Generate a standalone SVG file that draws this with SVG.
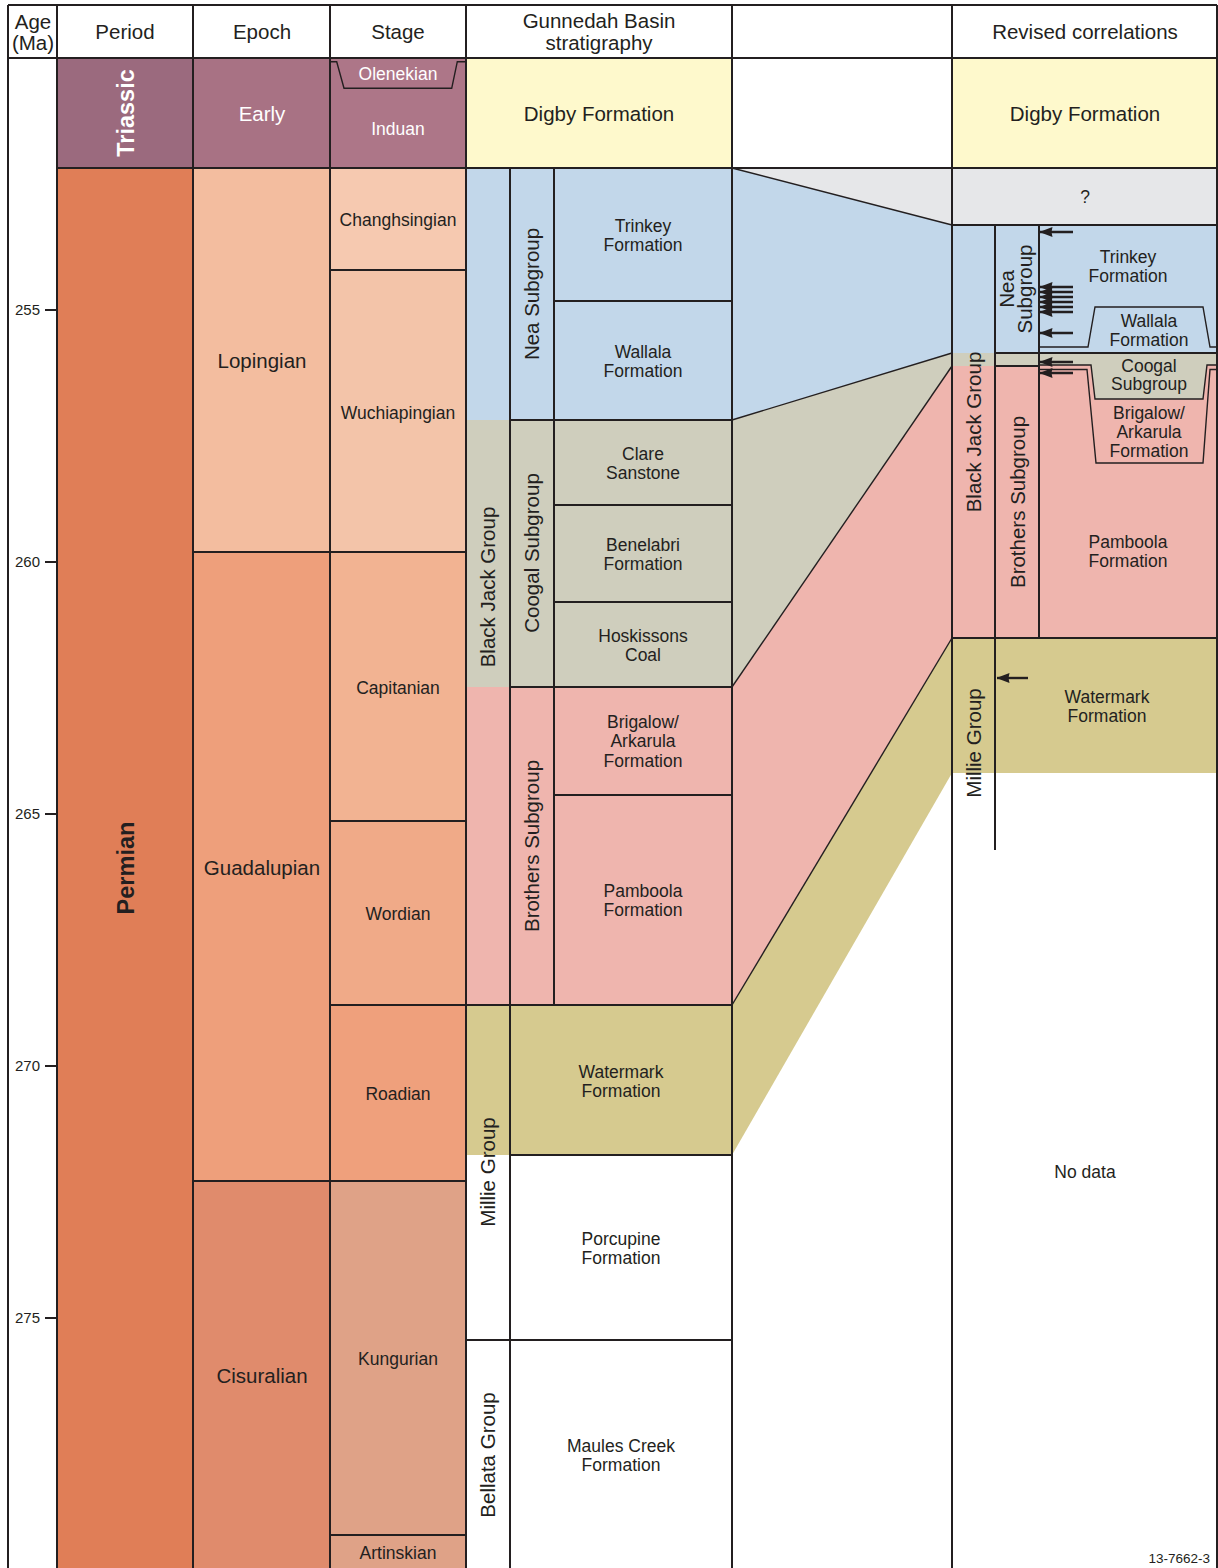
<svg xmlns="http://www.w3.org/2000/svg" width="1218" height="1568" viewBox="0 0 1218 1568">
<style>
.t{font-family:"Liberation Sans",Arial,sans-serif;fill:#231f20;text-anchor:middle}
.h{font-size:20.5px}
.s{font-size:17.5px}
.a{font-size:15px;text-anchor:end}
.b{font-size:23.5px;font-weight:bold}
.w{fill:#ffffff}
.ln{stroke:#231f20;stroke-width:2;fill:none}
.dl{stroke:#231f20;stroke-width:1.4;fill:none}
.ar{stroke:#231f20;stroke-width:2.4;fill:none;marker-end:url(#ah)}
</style>
<defs>
<marker id="ah" viewBox="0 0 13 10" refX="12.5" refY="5" markerWidth="13" markerHeight="10" markerUnits="userSpaceOnUse" orient="auto">
<path d="M0,0 L13,5 L0,10 L1,5 z" fill="#231f20"/>
</marker>
</defs>
<rect width="1218" height="1568" fill="#ffffff"/>

<g id="fills">
<rect x="57" y="58" width="136" height="110" fill="#9b6a7e"/>
<rect x="57" y="168" width="136" height="1400" fill="#e07e57"/>
<rect x="193" y="58" width="137" height="110" fill="#a87284"/>
<rect x="193" y="168" width="137" height="384" fill="#f3bd9f"/>
<rect x="193" y="552" width="137" height="629" fill="#ee9f7b"/>
<rect x="193" y="1181" width="137" height="387" fill="#e08b6c"/>
<rect x="330" y="58" width="136" height="110" fill="#ad7688"/>
<rect x="330" y="168" width="136" height="102" fill="#f6c9b0"/>
<rect x="330" y="270" width="136" height="282" fill="#f3c4a9"/>
<rect x="330" y="552" width="136" height="269" fill="#f2b392"/>
<rect x="330" y="821" width="136" height="184" fill="#f0aa88"/>
<rect x="330" y="1005" width="136" height="176" fill="#efa07c"/>
<rect x="330" y="1181" width="136" height="387" fill="#dfa287"/>
<rect x="466" y="58" width="266" height="110" fill="#fef9cc"/>
<rect x="466" y="168" width="266" height="252" fill="#c2d7ea"/>
<rect x="466" y="420" width="266" height="267" fill="#cfcebd"/>
<rect x="466" y="687" width="266" height="318" fill="#efb5ae"/>
<rect x="466" y="1005" width="266" height="150" fill="#d6ca8f"/>
<polygon points="732,168 952,168 952,225" fill="#e6e7e9"/>
<polygon points="732,168 952,225 952,353 732,420" fill="#c2d7ea"/>
<polygon points="732,420 952,353 952,366 732,687" fill="#cfcebd"/>
<polygon points="732,687 952,366 952,638 732,1005" fill="#efb5ae"/>
<polygon points="732,1005 952,638 952,773 732,1155" fill="#d6ca8f"/>
<rect x="952" y="58" width="265" height="110" fill="#fef9cc"/>
<rect x="952" y="168" width="265" height="57" fill="#e6e7e9"/>
<rect x="952" y="225" width="265" height="128" fill="#c2d7ea"/>
<rect x="952" y="353" width="265" height="13" fill="#cfcebd"/>
<rect x="952" y="366" width="265" height="272" fill="#efb5ae"/>
<rect x="1039" y="365" width="178" height="1" fill="#efb5ae"/>
<polygon points="1091,365 1207,365 1203,399 1095,399" fill="#cfcebd"/>
<rect x="952" y="638" width="265" height="135" fill="#d6ca8f"/>
</g>

<g id="connectors">
<line class="dl" x1="732" y1="168" x2="952" y2="225"/>
<line class="dl" x1="732" y1="420" x2="952" y2="353"/>
<line class="dl" x1="732" y1="687" x2="952" y2="366"/>
<line class="dl" x1="732" y1="1005" x2="952" y2="638"/>
</g>

<g id="grid">
<path class="ln" d="M8,5V1568 M57,5V1568 M193,5V1568 M330,5V1568 M466,5V1568 M732,5V1568 M952,5V1568 M1217,5V1568"/>
<path class="ln" d="M8,5H1217 M8,58H1217 M57,168H1217"/>
<path class="ln" d="M193,552H466 M193,1181H466 M330,270H466 M330,821H466 M330,1005H466 M330,1535H466"/>
<path class="ln" d="M45,310H57 M45,562H57 M45,814H57 M45,1066H57 M45,1318H57"/>
<path class="ln" d="M510,168V1568 M554,168V1005 M554,301H732 M510,420H732 M554,505H732 M554,602H732 M510,687H732 M554,795H732 M466,1005H732 M510,1155H732 M466,1340H732"/>
<path class="ln" d="M952,225H1217 M995,225V850 M1039,225V638 M995,353H1217 M995,366H1039 M952,638H1217"/>
<polyline class="dl" points="330,61.7 336.7,61.7 344,88.3 451.7,88.3 457.3,61.7 466,61.7"/>
<polyline class="dl" points="1039,347 1088,347 1095,307 1203,307 1210,347 1217,347"/>
<polyline class="dl" points="1039,365 1091,365 1095,399 1203,399 1207,365 1217,365"/>
<polyline class="dl" points="1039,369.5 1087,369.5 1096,463 1203,463 1210,369.5 1217,369.5"/>
</g>

<g id="arrows">
<line class="ar" x1="1073" y1="232" x2="1040" y2="232"/>
<line class="ar" x1="1073" y1="287" x2="1040" y2="287"/>
<line class="ar" x1="1073" y1="292" x2="1040" y2="292"/>
<line class="ar" x1="1073" y1="297" x2="1040" y2="297"/>
<line class="ar" x1="1073" y1="302" x2="1040" y2="302"/>
<line class="ar" x1="1073" y1="307" x2="1040" y2="307"/>
<line class="ar" x1="1073" y1="312" x2="1040" y2="312"/>
<line class="ar" x1="1073" y1="333" x2="1040" y2="333"/>
<line class="ar" x1="1073" y1="362" x2="1040" y2="362"/>
<line class="ar" x1="1073" y1="373" x2="1040" y2="373"/>
<line class="ar" x1="1028" y1="678" x2="997" y2="678"/>
</g>

<g id="header">
<text class="t h" x="33" y="29.4">Age</text>
<text class="t h" x="33" y="50.4">(Ma)</text>
<text class="t h" x="125" y="39.4">Period</text>
<text class="t h" x="262" y="39.4">Epoch</text>
<text class="t h" x="398" y="39.4">Stage</text>
<text class="t h" x="599" y="28.4">Gunnedah Basin</text>
<text class="t h" x="599" y="50.4">stratigraphy</text>
<text class="t h" x="1085" y="39.4">Revised correlations</text>
</g>

<g id="ages">
<text class="t a" x="40" y="315.4">255</text>
<text class="t a" x="40" y="567.4">260</text>
<text class="t a" x="40" y="819.4">265</text>
<text class="t a" x="40" y="1071.4">270</text>
<text class="t a" x="40" y="1323.4">275</text>
</g>

<g id="periods">
<text class="t b w" transform="translate(133.5,113) rotate(-90)">Triassic</text>
<text class="t b" transform="translate(133.5,868) rotate(-90)">Permian</text>
</g>

<g id="epochs">
<text class="t h w" x="262" y="121.4">Early</text>
<text class="t h" x="262" y="368.4">Lopingian</text>
<text class="t h" x="262" y="875.4">Guadalupian</text>
<text class="t h" x="262" y="1383.4">Cisuralian</text>
</g>

<g id="stages">
<text class="t s w" x="398" y="80.3">Olenekian</text>
<text class="t s w" x="398" y="135.3">Induan</text>
<text class="t s" x="398" y="226.3">Changhsingian</text>
<text class="t s" x="398" y="419.3">Wuchiapingian</text>
<text class="t s" x="398" y="694.3">Capitanian</text>
<text class="t s" x="398" y="920.3">Wordian</text>
<text class="t s" x="398" y="1100.3">Roadian</text>
<text class="t s" x="398" y="1365.3">Kungurian</text>
<text class="t s" x="398" y="1559.3">Artinskian</text>
</g>

<g id="gunnedah">
<text class="t h" x="599" y="121.4">Digby Formation</text>
<text class="t h" transform="translate(495.4,587) rotate(-90)">Black Jack Group</text>
<text class="t h" transform="translate(495.4,1172) rotate(-90)">Millie Group</text>
<text class="t h" transform="translate(495.4,1455) rotate(-90)">Bellata Group</text>
<text class="t h" transform="translate(539.4,294) rotate(-90)">Nea Subgroup</text>
<text class="t h" transform="translate(539.4,553) rotate(-90)">Coogal Subgroup</text>
<text class="t h" transform="translate(539.4,846) rotate(-90)">Brothers Subgroup</text>
<text class="t s" x="643" y="232.3">Trinkey</text>
<text class="t s" x="643" y="251.3">Formation</text>
<text class="t s" x="643" y="358.3">Wallala</text>
<text class="t s" x="643" y="377.3">Formation</text>
<text class="t s" x="643" y="460.3">Clare</text>
<text class="t s" x="643" y="479.3">Sanstone</text>
<text class="t s" x="643" y="551.3">Benelabri</text>
<text class="t s" x="643" y="570.3">Formation</text>
<text class="t s" x="643" y="642.3">Hoskissons</text>
<text class="t s" x="643" y="661.3">Coal</text>
<text class="t s" x="643" y="728.3">Brigalow/</text>
<text class="t s" x="643" y="747.3">Arkarula</text>
<text class="t s" x="643" y="767.3">Formation</text>
<text class="t s" x="643" y="897.3">Pamboola</text>
<text class="t s" x="643" y="916.3">Formation</text>
<text class="t s" x="621" y="1078.3">Watermark</text>
<text class="t s" x="621" y="1097.3">Formation</text>
<text class="t s" x="621" y="1245.3">Porcupine</text>
<text class="t s" x="621" y="1264.3">Formation</text>
<text class="t s" x="621" y="1452.3">Maules Creek</text>
<text class="t s" x="621" y="1471.3">Formation</text>
</g>

<g id="revised">
<text class="t h" x="1085" y="121.4">Digby Formation</text>
<text class="t s" x="1085" y="203.3">?</text>
<text class="t h" transform="translate(981.4,432) rotate(-90)">Black Jack Group</text>
<text class="t h" transform="translate(1014.4,289) rotate(-90)">Nea</text>
<text class="t h" transform="translate(1032.4,289) rotate(-90)">Subgroup</text>
<text class="t h" transform="translate(1025.4,502) rotate(-90)">Brothers Subgroup</text>
<text class="t h" transform="translate(981.4,743) rotate(-90)">Millie Group</text>
<text class="t s" x="1128" y="263.3">Trinkey</text>
<text class="t s" x="1128" y="282.3">Formation</text>
<text class="t s" x="1149" y="327.3">Wallala</text>
<text class="t s" x="1149" y="346.3">Formation</text>
<text class="t s" x="1149" y="372.3">Coogal</text>
<text class="t s" x="1149" y="390.3">Subgroup</text>
<text class="t s" x="1149" y="419.3">Brigalow/</text>
<text class="t s" x="1149" y="438.3">Arkarula</text>
<text class="t s" x="1149" y="457.3">Formation</text>
<text class="t s" x="1128" y="548.3">Pamboola</text>
<text class="t s" x="1128" y="567.3">Formation</text>
<text class="t s" x="1107" y="703.3">Watermark</text>
<text class="t s" x="1107" y="722.3">Formation</text>
<text class="t s" x="1085" y="1178.3">No data</text>
<text class="t" style="font-size:13.5px;text-anchor:end" x="1210" y="1563">13-7662-3</text>
</g>
</svg>
